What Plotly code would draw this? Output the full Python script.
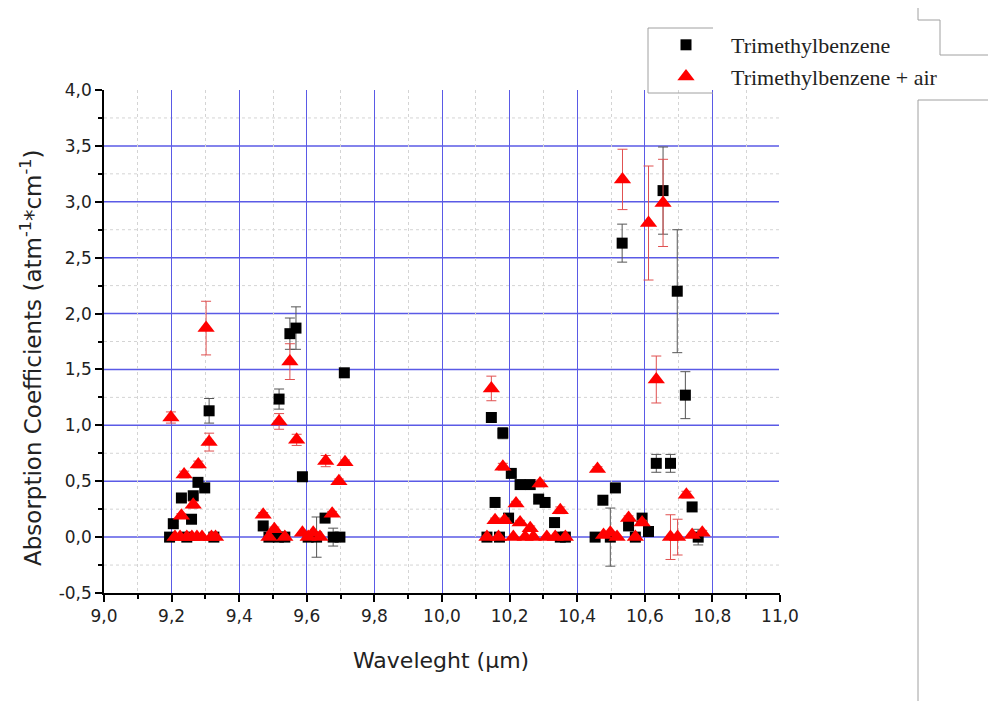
import plotly.graph_objects as go

# ---------------- data ----------------
tmb_x = [9.194, 9.205, 9.229, 9.245, 9.259, 9.264, 9.278, 9.298, 9.311, 9.325,
         9.471, 9.488, 9.516, 9.518, 9.535, 9.550, 9.568, 9.587, 9.604, 9.629, 9.654, 9.678, 9.698, 9.711,
         10.133, 10.146, 10.157, 10.170, 10.180, 10.197, 10.205, 10.231, 10.261, 10.286, 10.305, 10.333, 10.350, 10.365,
         10.453, 10.476, 10.498, 10.513, 10.533, 10.552, 10.572, 10.592, 10.611, 10.634, 10.654, 10.676, 10.696, 10.720, 10.740, 10.758]
tmb_y = [0.0, 0.12, 0.35, 0.0, 0.16, 0.37, 0.49, 0.44, 1.13, 0.0,
         0.10, 0.0, 0.0, 1.235, 0.0, 1.82, 1.87, 0.54, 0.0, 0.0, 0.17, 0.0, 0.0, 1.47,
         0.0, 1.07, 0.31, 0.0, 0.93, 0.17, 0.57, 0.47, 0.47, 0.34, 0.31, 0.13, 0.0, 0.0,
         0.0, 0.33, 0.0, 0.44, 2.63, 0.10, 0.0, 0.17, 0.05, 0.66, 3.10, 0.66, 2.20, 1.27, 0.27, 0.0]
tmb_err = [0.02, 0.02, 0.02, 0.0, 0.02, 0.02, 0.03, 0.03, 0.11, 0.0,
           0.02, 0.0, 0.0, 0.09, 0.0, 0.14, 0.19, 0.02, 0.0, 0.18, 0.03, 0.08, 0.0, 0.02,
           0.0, 0.04, 0.02, 0.03, 0.05, 0.02, 0.03, 0.02, 0.02, 0.02, 0.02, 0.02, 0.0, 0.0,
           0.0, 0.03, 0.26, 0.02, 0.17, 0.02, 0.0, 0.02, 0.02, 0.08, 0.39, 0.08, 0.55, 0.21, 0.02, 0.07]

air_x = [9.198, 9.210, 9.225, 9.229, 9.237, 9.245, 9.260, 9.264, 9.275, 9.279, 9.290, 9.302, 9.311, 9.318, 9.330,
         9.471, 9.488, 9.504, 9.518, 9.535, 9.550, 9.570, 9.587, 9.604, 9.619, 9.639, 9.656, 9.675, 9.695, 9.713,
         10.133, 10.146, 10.157, 10.167, 10.180, 10.185, 10.211, 10.219, 10.231, 10.246, 10.261, 10.270, 10.290, 10.310, 10.335, 10.350, 10.365,
         10.460, 10.478, 10.498, 10.518, 10.534, 10.552, 10.572, 10.592, 10.611, 10.634, 10.654, 10.676, 10.697, 10.723, 10.740, 10.770]
air_y = [1.07, 0.0, 0.0, 0.19, 0.56, 0.0, 0.0, 0.29, 0.0, 0.65, 0.0, 1.87, 0.85, 0.0, 0.0,
         0.20, 0.0, 0.07, 1.035, 0.0, 1.57, 0.87, 0.04, 0.0, 0.04, 0.0, 0.68, 0.21, 0.50, 0.67,
         0.0, 1.33, 0.15, 0.0, 0.63, 0.15, 0.0, 0.30, 0.13, 0.0, 0.08, 0.0, 0.48, 0.0, 0.0, 0.24, 0.0,
         0.61, 0.02, 0.04, 0.0, 3.20, 0.17, 0.0, 0.13, 2.81, 1.41, 2.99, 0.0, 0.0, 0.38, 0.02, 0.04]
air_err = [0.05, 0.0, 0.0, 0.02, 0.03, 0.0, 0.0, 0.03, 0.0, 0.03, 0.0, 0.24, 0.08, 0.0, 0.0,
           0.02, 0.0, 0.02, 0.07, 0.0, 0.16, 0.05, 0.0, 0.0, 0.0, 0.0, 0.05, 0.02, 0.02, 0.02,
           0.0, 0.11, 0.02, 0.0, 0.03, 0.02, 0.0, 0.02, 0.02, 0.0, 0.02, 0.0, 0.03, 0.0, 0.0, 0.03, 0.0,
           0.02, 0.0, 0.0, 0.0, 0.27, 0.02, 0.0, 0.02, 0.51, 0.21, 0.39, 0.20, 0.16, 0.03, 0.0, 0.02]

x_tickvals = [9.0, 9.2, 9.4, 9.6, 9.8, 10.0, 10.2, 10.4, 10.6, 10.8, 11.0]
x_ticktext = ["9,0", "9,2", "9,4", "9,6", "9,8", "10,0", "10,2", "10,4", "10,6", "10,8", "11,0"]
x_minorvals = [9.1, 9.3, 9.5, 9.7, 9.9, 10.1, 10.3, 10.5, 10.7, 10.9]
y_tickvals = [-0.5, 0.0, 0.5, 1.0, 1.5, 2.0, 2.5, 3.0, 3.5, 4.0]
y_ticktext = ["-0,5", "0,0", "0,5", "1,0", "1,5", "2,0", "2,5", "3,0", "3,5", "4,0"]
y_minorvals = [-0.25, 0.25, 0.75, 1.25, 1.75, 2.25, 2.75, 3.25, 3.75]

x_title = "Waveleght (\u00b5m)"
y_title = "Absorption Coefficients (atm<sup>-1</sup>*cm<sup>-1</sup>)"

# ---------------- layout helpers (screen pixels; page body has an 8px margin) ----------------
OFF = 8
W, H = 996 - OFF, 701 - OFF
# plot area in screen pixels
SL, SR, ST, SB = 104, 780, 90, 593
L, R, T, B = SL - OFF, SR - OFF, ST - OFF, SB - OFF


def px_x(p):
    return (p - SL) / (SR - SL)


def px_y(p):
    return (SB - p) / (SB - ST)


fig = go.Figure()
fig.add_trace(go.Scatter(
    x=tmb_x, y=tmb_y, mode="markers", name="Trimethylbenzene",
    legendgroup="a",
    marker=dict(symbol="square", size=11, color="black"),
    error_y=dict(type="data", array=tmb_err, color="#555555", thickness=1, width=5),
))
fig.add_trace(go.Scatter(
    x=air_x, y=air_y, mode="markers", name="Trimethylbenzene + air",
    legendgroup="b",
    marker=dict(symbol="triangle-up", size=15, color="red"),
    error_y=dict(type="data", array=air_err, color="#e05050", thickness=1, width=5),
))

grid_blue = "#5a5ae6"
tick_font = dict(family="DejaVu Sans", size=17, color="#222")
fig.update_xaxes(
    range=[9.0, 11.0], tickvals=x_tickvals, ticktext=x_ticktext, automargin=False,
    showline=True, linecolor="black", linewidth=1.5,
    ticks="outside", ticklen=7, tickwidth=1.5, tickcolor="black",
    showgrid=True, gridcolor=grid_blue, gridwidth=1, zeroline=False,
    minor=dict(tickvals=x_minorvals, ticks="outside", ticklen=4, tickcolor="black",
               showgrid=True, gridcolor="#d4d4d4", griddash="dot"),
    tickfont=tick_font,
)
fig.update_yaxes(
    range=[-0.5, 4.0], tickvals=y_tickvals, ticktext=y_ticktext, automargin=False,
    showline=True, linecolor="black", linewidth=1.5,
    ticks="outside", ticklen=7, tickwidth=1.5, tickcolor="black",
    showgrid=False, zeroline=False,
    minor=dict(tickvals=y_minorvals, ticks="outside", ticklen=4, tickcolor="black",
               showgrid=False),
    tickfont=tick_font,
)

annotations = [
    dict(text=x_title, xref="paper", yref="paper", x=px_x(441), y=px_y(660),
         xanchor="center", yanchor="middle", showarrow=False,
         font=dict(family="DejaVu Sans", size=22, color="#222")),
    dict(text=y_title, xref="paper", yref="paper", x=px_x(31), y=px_y(358),
         xanchor="center", yanchor="middle", showarrow=False, textangle=-90,
         font=dict(family="DejaVu Sans", size=23, color="#222")),
]

shapes = []
# dotted minor horizontal grid lines
for v in y_minorvals:
    shapes.append(dict(type="line", xref="paper", yref="y", x0=0, x1=1, y0=v, y1=v,
                       line=dict(color="#d4d4d4", width=1, dash="dot"), layer="below"))
# major horizontal grid lines at the y tick values inside the frame
for v in y_tickvals[1:-1]:
    shapes.append(dict(type="line", xref="paper", yref="y", x0=0, x1=1, y0=v, y1=v,
                       line=dict(color=grid_blue, width=1.5), layer="below"))
# hide grid line on the right edge
shapes.append(dict(type="line", xref="paper", yref="paper", x0=1, x1=1, y0=0.002, y1=1,
                   line=dict(color="white", width=2), layer="above"))
# legend partial frame and page-edge lines (screen pixels)
line_style = dict(color="#a0a0a0", width=1)
for (a, b, c, d) in [(648, 28, 713, 28), (648, 28, 648, 93), (648, 93, 713, 93),
                     (918, 8, 918, 20), (918, 20, 940, 20), (940, 20, 940, 55), (940, 55, 996, 55),
                     (918, 100, 996, 100), (918, 100, 918, 701)]:
    shapes.append(dict(type="line", xref="paper", yref="paper",
                       x0=px_x(a), y0=px_y(b), x1=px_x(c), y1=px_y(d), line=line_style))

fig.update_layout(
    width=W, height=H,
    margin=dict(l=L, r=W - R, t=T, b=H - B, autoexpand=False),
    paper_bgcolor="white", plot_bgcolor="white",
    showlegend=True,
    legend=dict(x=px_x(641), y=px_y(24), xanchor="left", yanchor="top",
                bgcolor="rgba(0,0,0,0)", borderwidth=0,
                font=dict(family="Liberation Serif", size=22, color="#222"),
                itemwidth=80, tracegroupgap=0),
    shapes=shapes,
    annotations=annotations,
)

fig.write_html("out.html")
